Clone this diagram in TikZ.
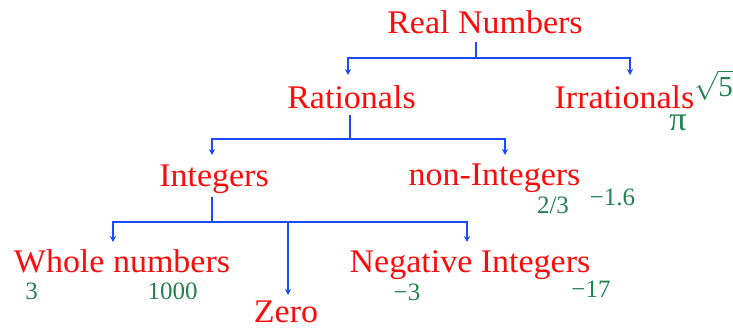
\RequirePackage{fix-cm}
\documentclass[tikz,border=0pt]{standalone}
\usepackage{fontspec}
\setmainfont{Liberation Serif}[FakeStretch=1.03]
\newfontfamily\gfont{Liberation Serif}
\usetikzlibrary{arrows.meta}
\definecolor{lblred}{RGB}{255,10,10}
\definecolor{lblgreen}{RGB}{34,130,80}
\definecolor{lnblue}{RGB}{25,75,255}
\tikzset{
  cat/.style={text=lblred, anchor=base, inner sep=0pt, font=\fontsize{33}{38}\selectfont},
  ex/.style={text=lblgreen, anchor=base, inner sep=0pt, font=\gfont\fontsize{25}{28}\selectfont},
  conn/.style={draw=lnblue, line width=1.5pt},
  arr/.style={conn, -{Stealth[length=6pt,width=6pt]}},
}
\begin{document}
\begin{tikzpicture}[x=1pt,y=-1pt]
\useasboundingbox (0,0) rectangle (733,327);
% category labels
\node[cat] (real) at (485,33) {Real Numbers};
\node[cat] (rat) at (351.5,108) {Rationals};
\node[cat] (irr) at (624.5,108) {Irrationals};
\node[cat] (int) at (214,186) {Integers};
\node[cat] (nonint) at (494.5,185) {non-Integers};
\node[cat] (whole) at (122,272) {Whole numbers};
\node[cat] (neg) at (470,272) {Negative Integers};
\node[cat] (zero) at (286,322) {Zero};
% examples
\node[ex, font=\gfont\fontsize{29}{32}\selectfont, anchor=base east] (sq5) at (733,96) {$\sqrt{\mbox{5}}$};
\node[ex, font=\gfont\fontsize{34}{38}\selectfont] (pi) at (678,130) {π};
\node[ex] (twothirds) at (553,213) {2/3};
\node[ex] (m16) at (612.5,205) {−1.6};
\node[ex] (three) at (31.5,299) {3};
\node[ex] (thousand) at (172.5,299) {1000};
\node[ex] (m3) at (407,300) {−3};
\node[ex] (m17) at (591,297) {−17};
% connector points
\coordinate (s1) at (476,42);
\coordinate (j1) at (476,58);
\coordinate (t1a) at (348,75);
\coordinate (t1b) at (630,75);
\coordinate (s2) at (350,115);
\coordinate (j2) at (350,139);
\coordinate (t2a) at (212,155);
\coordinate (t2b) at (505,155);
\coordinate (s3) at (212,197);
\coordinate (j3) at (212,222);
\coordinate (t3a) at (113,242);
\coordinate (t3b) at (467,242);
\coordinate (t3c) at (288,295);
% connectors
\draw[conn] (s1) -- (j1);
\draw[arr] (j1) -| (t1a);
\draw[arr] (j1) -| (t1b);
\draw[conn] (s2) -- (j2);
\draw[arr] (j2) -| (t2a);
\draw[arr] (j2) -| (t2b);
\draw[conn] (s3) -- (j3);
\draw[arr] (j3) -| (t3a);
\draw[arr] (j3) -| (t3b);
\draw[arr] (j3) -| (t3c);
\end{tikzpicture}
\end{document}
